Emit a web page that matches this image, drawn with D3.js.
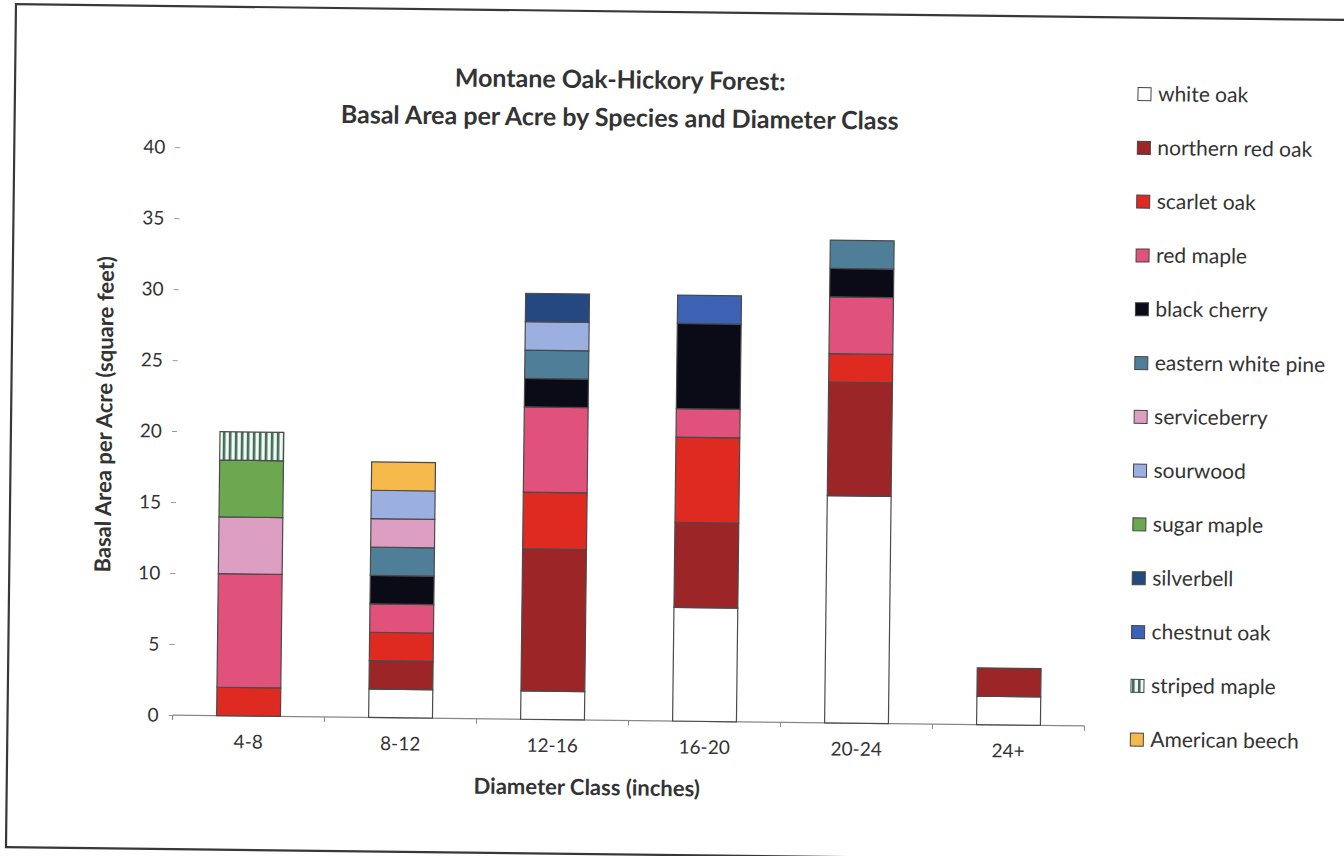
<!DOCTYPE html>
<html>
<head>
<meta charset="utf-8">
<script src="https://cdn.jsdelivr.net/npm/d3@7"></script>
<style>
  body { margin: 0; background: #fff; }
  svg { display: block; }
  text { font-family: Lato, "Open Sans", sans-serif; fill: #333; }
</style>
</head>
<body>
<svg id="chart" width="1344" height="856"></svg>
<script>
// Diameter classes (inches) along the x axis
const classes = ["4-8", "8-12", "12-16", "16-20", "20-24", "24+"];

// Basal area per acre (sq ft) for each species, one value per diameter class
const whiteOak         = [0, 2, 2, 8, 16, 2];
const northernRedOak   = [0, 2, 10, 6, 8, 2];
const scarletOak       = [2, 2, 4, 6, 2, 0];
const redMaple         = [8, 2, 6, 2, 4, 0];
const blackCherry      = [0, 2, 2, 6, 2, 0];
const easternWhitePine = [0, 2, 2, 0, 2, 0];
const serviceberry     = [4, 2, 0, 0, 0, 0];
const sourwood         = [0, 2, 2, 0, 0, 0];
const sugarMaple       = [4, 0, 0, 0, 0, 0];
const silverbell       = [0, 0, 2, 0, 0, 0];
const chestnutOak      = [0, 0, 0, 2, 0, 0];
const stripedMaple     = [2, 0, 0, 0, 0, 0];
const americanBeech    = [0, 2, 0, 0, 0, 0];

const speciesNames = ["white oak", "northern red oak", "scarlet oak", "red maple",
  "black cherry", "eastern white pine", "serviceberry", "sourwood", "sugar maple",
  "silverbell", "chestnut oak", "striped maple", "American beech"];
const speciesValues = [whiteOak, northernRedOak, scarletOak, redMaple, blackCherry,
  easternWhitePine, serviceberry, sourwood, sugarMaple, silverbell, chestnutOak,
  stripedMaple, americanBeech];
const speciesColors = ["#ffffff", "#9c2528", "#de2a20", "#e0527b", "#0b0b17",
  "#4f7f98", "#dc9fc2", "#9bb0e0", "#6ba84f", "#24487f", "#3d62b3",
  "url(#stripes)", "#f5b94c"];

const yTicks = [0, 5, 10, 15, 20, 25, 30, 35, 40];

const titleLines = ["Montane Oak-Hickory Forest:", "Basal Area per Acre by Species and Diameter Class"];
const xTitle = "Diameter Class (inches)";
const yTitle = "Basal Area per Acre (square feet)";

// Rows for the stack layout
const rows = classes.map((c, i) => {
  const r = { cls: c };
  speciesNames.forEach((s, k) => { r[s] = speciesValues[k][i]; });
  return r;
});

const svg = d3.select("#chart");

// vertical stripe fill for striped maple
const defs = svg.append("defs");
const pat = defs.append("pattern")
  .attr("id", "stripes").attr("patternUnits", "userSpaceOnUse")
  .attr("width", 6).attr("height", 6);
pat.append("rect").attr("width", 6).attr("height", 6).attr("fill", "#f4f8f4");
pat.append("rect").attr("x", 1).attr("width", 2.6).attr("height", 6).attr("fill", "#3f6d57");

// whole sheet sits slightly tilted
const root = svg.append("g").attr("transform", "rotate(0.68 672 428)");

root.append("rect")
  .attr("x", 11).attr("y", 12).attr("width", 1350).attr("height", 843)
  .attr("fill", "#fff").attr("stroke", "#383838").attr("stroke-width", 2.2);

const x = d3.scaleBand().domain(classes).range([176, 1088])
  .paddingInner(0.58).paddingOuter(0.29);
const y = d3.scaleLinear().domain([0, 40]).range([721, 153]);

// Title
root.append("g").selectAll("text").data(titleLines).join("text")
  .attr("x", 616).attr("y", (d, i) => 89 + i * 38)
  .attr("text-anchor", "middle")
  .attr("font-size", 25).attr("font-weight", 700).attr("fill", "#3a3a3a")
  .text(d => d);

// Y axis (ticks and labels only)
const yAxis = root.append("g").attr("transform", "translate(177,0)")
  .call(d3.axisLeft(y).tickValues(yTicks).tickSize(5).tickPadding(10));
yAxis.select(".domain").remove();
yAxis.selectAll(".tick line").attr("stroke", "#999");
yAxis.selectAll(".tick text").attr("font-size", 19).attr("fill", "#3a3a3a")
  .style("font-family", "Lato, sans-serif");

// X axis line with category separators
const step = x.step();
const bounds = d3.range(classes.length + 1).map(i => x.range()[0] + i * step);
root.append("line")
  .attr("x1", x.range()[0]).attr("x2", x.range()[1])
  .attr("y1", y(0)).attr("y2", y(0))
  .attr("stroke", "#888").attr("stroke-width", 1.2);
root.append("g").selectAll("line").data(bounds).join("line")
  .attr("x1", d => d).attr("x2", d => d)
  .attr("y1", y(0)).attr("y2", y(0) + 5)
  .attr("stroke", "#888");
const xAxis = root.append("g").attr("transform", `translate(0,${y(0)})`)
  .call(d3.axisBottom(x).tickSize(0).tickPadding(19));
xAxis.select(".domain").remove();
xAxis.selectAll(".tick text").attr("font-size", 19).attr("fill", "#3a3a3a")
  .style("font-family", "Lato, sans-serif");

// Stacked bars
const series = d3.stack().keys(speciesNames)(rows);
root.append("g").selectAll("g").data(series).join("g")
  .attr("fill", (d, i) => speciesColors[i])
  .selectAll("rect").data(d => d.filter(p => p[1] > p[0])).join("rect")
  .attr("x", p => x(p.data.cls))
  .attr("y", p => y(p[1]))
  .attr("width", x.bandwidth())
  .attr("height", p => y(p[0]) - y(p[1]))
  .attr("stroke", "#4a4a4a").attr("stroke-width", 1.2);

// Axis titles
root.append("text")
  .attr("x", 591).attr("y", 796).attr("text-anchor", "middle")
  .attr("font-size", 22).attr("font-weight", 700).attr("fill", "#3a3a3a")
  .text(xTitle);
root.append("text")
  .attr("transform", "translate(112,421) rotate(-90)").attr("text-anchor", "middle")
  .attr("font-size", 22).attr("font-weight", 700).attr("fill", "#3a3a3a")
  .text(yTitle);

// Legend
const legend = root.append("g").selectAll("g").data(speciesNames).join("g")
  .attr("transform", (d, i) => `translate(1134,${88.5 + i * 53.8})`);
legend.append("rect")
  .attr("x", 0).attr("y", -6.5).attr("width", 13).attr("height", 13)
  .attr("fill", (d, i) => speciesColors[i])
  .attr("stroke", "#444").attr("stroke-width", 1);
legend.append("text")
  .attr("x", 20).attr("y", 7)
  .attr("font-size", 21).attr("fill", "#333")
  .text(d => d);
</script>
</body>
</html>
